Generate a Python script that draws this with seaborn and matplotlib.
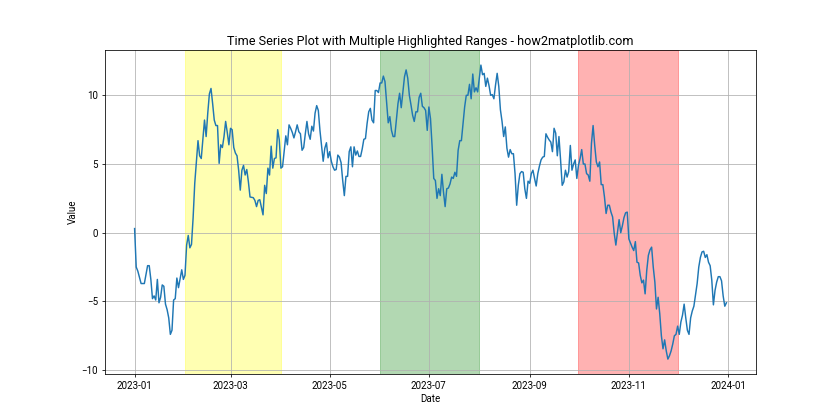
import matplotlib
matplotlib.use("Agg")
import matplotlib.pyplot as plt
import seaborn as sns
import pandas as pd

# Day offsets from 2023-01-01 and values
day_offsets = [
    0, 1, 2, 4, 6, 8, 9, 10, 11, 12, 13, 14, 15, 16, 17, 18, 19, 20, 21, 22, 23, 24, 25, 26, 27, 29,
    30, 31, 32, 33, 34, 35, 36, 37, 38, 39, 40, 41, 43, 44, 45, 46, 47, 48, 49, 50, 51, 52, 53, 54,
    55, 56, 57, 58, 59, 60, 61, 62, 63, 64, 65, 66, 67, 68, 69, 70, 71, 73, 74, 75, 76, 77, 78, 79,
    80, 81, 82, 83, 84, 85, 86, 87, 88, 89, 90, 91, 92, 93, 94, 95, 96, 97, 98, 99, 100, 101, 102,
    103, 104, 105, 106, 107, 108, 109, 110, 111, 112, 113, 114, 115, 116, 117, 118, 119, 120, 121,
    122, 123, 124, 125, 126, 127, 128, 129, 130, 131, 132, 133, 134, 135, 136, 137, 138, 139, 140,
    141, 142, 143, 144, 145, 146, 147, 148, 149, 150, 151, 152, 153, 154, 155, 156, 157, 158, 159,
    160, 161, 162, 163, 164, 165, 166, 167, 168, 169, 170, 171, 172, 173, 174, 175, 176, 177, 178,
    179, 180, 181, 182, 183, 184, 185, 186, 187, 188, 189, 190, 191, 192, 193, 194, 195, 196, 197,
    198, 199, 200, 201, 202, 203, 204, 205, 206, 207, 208, 209, 210, 211, 212, 213, 214, 215, 216,
    217, 218, 219, 220, 221, 222, 223, 224, 225, 226, 227, 228, 229, 230, 231, 232, 233, 234, 235,
    236, 237, 238, 239, 240, 241, 242, 243, 244, 245, 246, 247, 248, 249, 250, 251, 252, 253, 254,
    255, 256, 257, 258, 259, 260, 261, 262, 263, 264, 265, 266, 267, 268, 269, 270, 271, 272, 273,
    274, 275, 276, 277, 278, 279, 280, 281, 282, 283, 284, 285, 286, 287, 288, 289, 290, 291, 292,
    293, 294, 295, 296, 297, 298, 299, 300, 301, 302, 303, 304, 305, 306, 307, 308, 309, 310, 311,
    312, 313, 314, 315, 316, 317, 318, 319, 320, 321, 322, 323, 324, 325, 326, 327, 328, 329, 330,
    331, 332, 333, 334, 335, 336, 337, 338, 339, 340, 341, 342, 343, 344, 345, 346, 347, 348, 349,
    350, 351, 352, 353, 354, 355, 356, 357, 358, 359, 360, 361, 362, 363, 364,
]

values = [
    0.3, -2.5, -2.8, -3.7, -3.7, -2.4, -2.4, -3.4, -4.8, -4.6, -4.9, -3.4, -5.1, -4.7, -3.8, -3.9, -5.2, -5.6, -6.2, -7.4, -7.1, -4.9, -4.8, -3.3, -4.0, -2.7,
    -3.4, -3.1, -0.9, -0.2, -1.1, -0.85, 1.1, 3.6, 5.2, 6.7, 5.6, 5.4, 8.2, 7.0, 8.7, 10.1, 10.5, 9.4, 8.2, 7.8, 7.8, 5.05, 6.4, 6.2,
    7.0, 8.1, 7.3, 6.4, 7.6, 7.5, 6.2, 5.8, 5.6, 4.55, 3.1, 4.55, 4.9, 4.2, 4.6, 3.7, 2.6, 2.55, 2.35, 1.9, 2.35, 2.4, 1.85, 1.3,
    3.45, 2.85, 4.7, 4.2, 6.3, 4.7, 5.4, 5.45, 7.5, 6.75, 4.7, 4.8, 5.9, 7.05, 6.4, 7.85, 7.6, 7.3, 6.9, 7.35, 7.85, 7.35, 7.2,
    6.0, 6.2, 7.2, 8.1, 7.2, 6.8, 7.75, 7.4, 8.7, 9.25, 8.9, 7.45, 6.35, 5.2, 6.15, 6.55, 5.45, 5.9, 5.2,
    4.8, 4.55, 4.6, 5.65, 5.5, 5.1, 3.8, 2.7, 4.1, 4.1, 5.9, 6.25, 4.8, 6.25, 5.65, 5.95, 5.55, 5.55, 6.1,
    6.8, 6.85, 7.95, 8.8, 9.05, 8.2, 8.0, 10.35, 10.35, 10.2, 10.9, 10.9, 11.4, 11.0, 9.5, 8.0, 8.45, 7.45, 7.0,
    7.0, 8.2, 9.4, 10.15, 9.1, 10.25, 11.35, 11.85, 11.25, 10.0, 9.3, 8.55, 8.1, 8.8, 8.8, 9.85, 10.15, 9.2, 9.1,
    8.9, 7.45, 9.15, 8.3, 6.25, 3.95, 3.8, 2.5, 3.2, 2.7, 4.25, 2.95, 1.9, 3.2, 3.25, 3.55, 4.05, 3.95, 4.4,
    4.1, 6.0, 6.7, 6.7, 7.95, 9.15, 10.0, 10.0, 10.8, 9.75, 11.55, 10.25, 10.55, 10.25, 11.25, 12.2, 11.5, 11.6, 10.65,
    11.25, 10.7, 10.0, 10.05, 9.75, 10.75, 11.6, 10.65, 8.95, 8.1, 7.0, 7.7, 6.15, 5.5, 6.05, 5.75, 5.75, 4.3, 2.0,
    3.45, 4.3, 4.45, 4.4, 3.2, 2.5, 3.75, 3.6, 4.3, 4.55, 3.95, 3.4, 4.3, 4.85, 5.3, 5.5, 5.55, 7.2, 6.95,
    6.75, 6.6, 5.9, 7.6, 7.25, 5.6, 7.0, 5.3, 3.45, 3.7, 4.55, 4.05, 4.45, 6.35, 4.55, 5.0, 5.3, 3.95, 4.9,
    5.4, 6.05, 5.0, 5.0, 4.3, 4.2, 3.75, 6.5, 7.8, 6.35, 5.15, 4.8, 5.15, 3.5, 3.5, 2.6, 1.4, 2.0, 2.0,
    1.5, 1.15, -0.05, -0.9, 0.0, 0.95, 0.0, 0.5, 1.1, 1.45, 1.5, -0.45, -0.75, -1.05, -1.3, -0.65, -2.15, -2.2, -3.1,
    -3.65, -3.45, -4.45, -2.75, -1.65, -1.25, -1.05, -2.5, -3.6, -5.55, -4.7, -5.9, -7.5, -8.45, -7.8, -8.6, -9.2, -8.95, -8.6,
    -8.1, -7.5, -7.4, -6.8, -7.4, -6.5, -6.0, -5.2, -6.2, -7.1, -7.4, -6.2, -5.7, -5.35, -4.55, -3.7, -2.5, -1.8, -1.4,
    -1.35, -1.8, -1.6, -2.15, -2.4, -3.45, -5.25, -4.2, -3.6, -3.2, -3.2, -3.5, -4.6, -5.35, -5.1,
]

span_starts = ["2023-02-01", "2023-06-01", "2023-10-01"]
span_ends = ["2023-04-01", "2023-08-01", "2023-12-01"]
span_colors = ["yellow", "green", "red"]

plt.rcParams["font.family"] = ["Roboto", "DejaVu Sans"]

df = pd.DataFrame({
    "Date": pd.Timestamp("2023-01-01") + pd.to_timedelta(day_offsets, unit="D"),
    "Value": values,
})

fig, ax = plt.subplots(figsize=(12, 6), dpi=70)
sns.lineplot(data=df, x="Date", y="Value", ax=ax, color="#1f77b4", linewidth=1.5)

for s, e, c in zip(span_starts, span_ends, span_colors):
    ax.axvspan(pd.Timestamp(s), pd.Timestamp(e), color=c, alpha=0.3)

ax.set_title("Time Series Plot with Multiple Highlighted Ranges - how2matplotlib.com", fontsize=13)
ax.set_xlabel("Date")
ax.set_ylabel("Value")
ax.grid(True)

fig.savefig("out.png", dpi=70)
